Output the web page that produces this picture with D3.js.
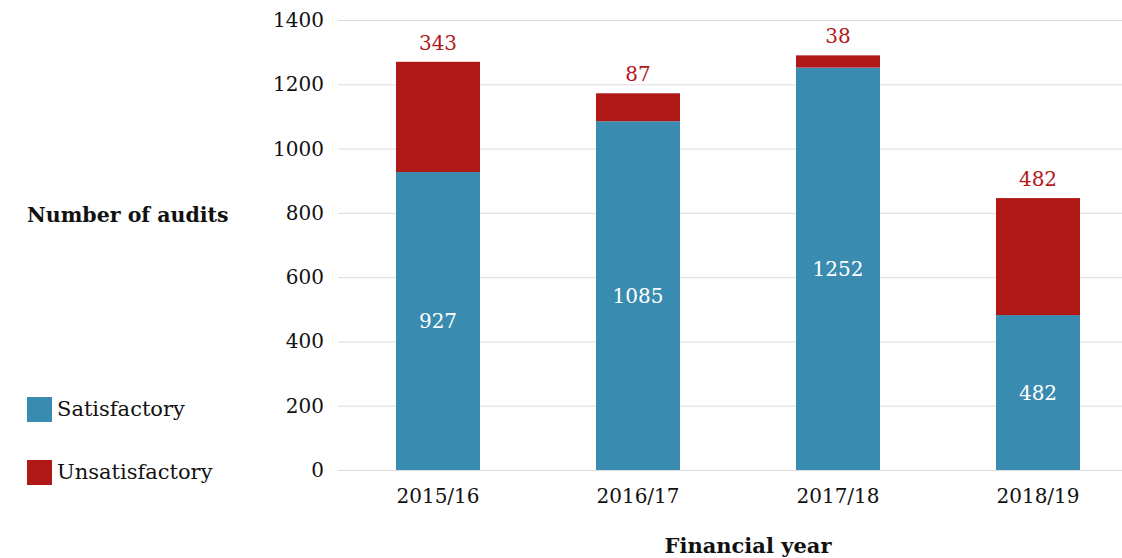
<!DOCTYPE html>
<html>
<head>
<meta charset="utf-8">
<script src="https://cdn.jsdelivr.net/npm/d3@7"></script>
<style>
  body { margin: 0; background: #fff; }
  text { font-family: "DejaVu Serif", serif; }
</style>
</head>
<body>
<svg width="1122" height="558"></svg>
<script>
// data
var years = ["2015/16", "2016/17", "2017/18", "2018/19"];
var satisfactory = [927, 1085, 1252, 482];
var unsatisfactory = [343, 87, 38, 364];
// labels as printed on the chart (last one says 482)
var unsatLabels = ["343", "87", "38", "482"];
var yTicks = [0, 200, 400, 600, 800, 1000, 1200, 1400];

var blue = "#3a8bb0";
var red = "#b01818";

var svg = d3.select("svg");

var x = d3.scaleBand()
    .domain(years)
    .range([338, 1138])
    .paddingInner(0.58)
    .paddingOuter(0.29);

var y = d3.scaleLinear()
    .domain([0, 1400])
    .range([470, 20]);

// grid lines
svg.append("g").selectAll("line")
    .data(yTicks)
    .enter().append("line")
    .attr("x1", 338)
    .attr("x2", 1122)
    .attr("y1", function (d) { return y(d) + 0.5; })
    .attr("y2", function (d) { return y(d) + 0.5; })
    .attr("stroke", "#dcdcdc")
    .attr("stroke-width", 1);

// y tick labels
svg.append("g").selectAll("text")
    .data(yTicks)
    .enter().append("text")
    .attr("x", 324)
    .attr("y", function (d) { return y(d); })
    .attr("dy", "0.35em")
    .attr("text-anchor", "end")
    .attr("font-size", 20)
    .attr("fill", "#111")
    .text(function (d) { return d; });

var rows = years.map(function (yr, i) {
    return { year: yr, sat: satisfactory[i], unsat: unsatisfactory[i], label: unsatLabels[i] };
});

// satisfactory bars
svg.append("g").selectAll("rect")
    .data(rows)
    .enter().append("rect")
    .attr("x", function (d) { return x(d.year); })
    .attr("width", x.bandwidth())
    .attr("y", function (d) { return y(d.sat); })
    .attr("height", function (d) { return y(0) - y(d.sat); })
    .attr("fill", blue);

// unsatisfactory bars on top
svg.append("g").selectAll("rect")
    .data(rows)
    .enter().append("rect")
    .attr("x", function (d) { return x(d.year); })
    .attr("width", x.bandwidth())
    .attr("y", function (d) { return y(d.sat + d.unsat); })
    .attr("height", function (d) { return y(d.sat) - y(d.sat + d.unsat); })
    .attr("fill", red);

// white labels inside blue
svg.append("g").selectAll("text")
    .data(rows)
    .enter().append("text")
    .attr("x", function (d) { return x(d.year) + x.bandwidth() / 2; })
    .attr("y", function (d) { return (y(0) + y(d.sat)) / 2; })
    .attr("dy", "0.35em")
    .attr("text-anchor", "middle")
    .attr("font-size", 20)
    .attr("fill", "#fff")
    .text(function (d) { return d.sat; });

// red labels above the bars
svg.append("g").selectAll("text")
    .data(rows)
    .enter().append("text")
    .attr("x", function (d) { return x(d.year) + x.bandwidth() / 2; })
    .attr("y", function (d) { return y(d.sat + d.unsat) - 12; })
    .attr("text-anchor", "middle")
    .attr("font-size", 20)
    .attr("fill", "#b3191c")
    .text(function (d) { return d.label; });

// x tick labels
svg.append("g").selectAll("text")
    .data(years)
    .enter().append("text")
    .attr("x", function (d) { return x(d) + x.bandwidth() / 2; })
    .attr("y", 503)
    .attr("text-anchor", "middle")
    .attr("font-size", 20)
    .attr("fill", "#111")
    .text(function (d) { return d; });

// axis titles
svg.append("text")
    .attr("x", 27)
    .attr("y", 222)
    .attr("font-size", 20.5)
    .attr("font-weight", "bold")
    .attr("fill", "#111")
    .text("Number of audits");

svg.append("text")
    .attr("x", 748)
    .attr("y", 553)
    .attr("text-anchor", "middle")
    .attr("font-size", 21)
    .attr("font-weight", "bold")
    .attr("fill", "#111")
    .text("Financial year");

// legend
var legend = [
    { name: "Satisfactory", color: blue, top: 397 },
    { name: "Unsatisfactory", color: red, top: 460 }
];
var lg = svg.append("g").selectAll("g")
    .data(legend)
    .enter().append("g");
lg.append("rect")
    .attr("x", 27)
    .attr("y", function (d) { return d.top; })
    .attr("width", 25)
    .attr("height", 25)
    .attr("fill", function (d) { return d.color; });
lg.append("text")
    .attr("x", 57)
    .attr("y", function (d) { return d.top + 19; })
    .attr("font-size", 21)
    .attr("fill", "#111")
    .text(function (d) { return d.name; });
</script>
</body>
</html>
